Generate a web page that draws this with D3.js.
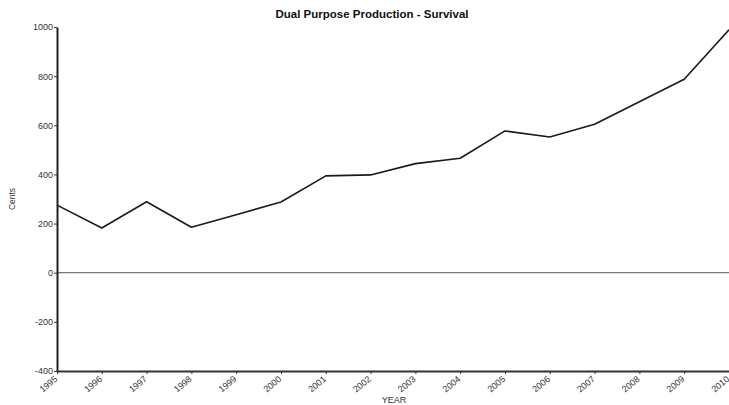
<!DOCTYPE html>
<html>
<head>
<meta charset="utf-8">
<script src="https://cdn.jsdelivr.net/npm/d3@7"></script>
<style>
  body { margin: 0; background: #fff; }
  svg { display: block; font-family: "Liberation Sans", Arial, Helvetica, sans-serif; }
</style>
</head>
<body>
<svg id="chart" width="729" height="405"></svg>
<script>
const years = [1995, 1996, 1997, 1998, 1999, 2000, 2001, 2002, 2003, 2004, 2005, 2006, 2007, 2008, 2009, 2010];
const cents = [275, 182, 289, 185, 236, 288, 394, 398, 444, 466, 577, 552, 604, 696, 787, 989];
const yTicks = [-400, -200, 0, 200, 400, 600, 800, 1000];
const title = "Dual Purpose Production - Survival";
const xTitle = "YEAR";
const yTitle = "Cents";

const svg = d3.select("#chart");
const margin = { left: 57, right: 0, top: 27, bottom: 34 };
const W = 729, H = 405;

const x = d3.scaleLinear().domain([1995, 2010]).range([margin.left, W - margin.right]);
const y = d3.scaleLinear().domain([-400, 1000]).range([H - margin.bottom, margin.top]);

// zero line
svg.append("line")
  .attr("x1", x(1995)).attr("x2", x(2010))
  .attr("y1", y(0)).attr("y2", y(0))
  .attr("stroke", "#555").attr("stroke-width", 1);

// data line
const line = d3.line().x((d, i) => x(years[i])).y(d => y(d));
svg.append("path")
  .datum(cents)
  .attr("d", line)
  .attr("fill", "none")
  .attr("stroke", "#1a1a1a")
  .attr("stroke-width", 1.6)
  .attr("stroke-linejoin", "round");

// y axis
const yAxis = svg.append("g")
  .attr("transform", `translate(${margin.left},0)`)
  .call(d3.axisLeft(y).tickValues(yTicks).tickFormat(d => String(d)).tickSize(3).tickPadding(1).tickSizeOuter(0));
yAxis.select(".domain").attr("stroke", "#222").attr("stroke-width", 2);
yAxis.selectAll(".tick line").attr("stroke", "#333");
yAxis.selectAll(".tick text").attr("font-size", 9).attr("fill", "#333");

// x axis
const xAxis = svg.append("g")
  .attr("transform", `translate(0,${y(-400)})`)
  .call(d3.axisBottom(x).tickValues(years).tickFormat(d => String(d)).tickSize(3).tickSizeOuter(0));
xAxis.select(".domain").attr("stroke", "#333").attr("stroke-width", 2);
xAxis.selectAll(".tick line").attr("stroke", "#333");
xAxis.selectAll(".tick text")
  .attr("font-size", 9).attr("fill", "#333")
  .attr("text-anchor", "end")
  .attr("y", 0)
  .attr("dx", -5.4).attr("dy", 7.2)
  .attr("transform", "rotate(-40)");

// titles
svg.append("text")
  .attr("x", 372).attr("y", 18)
  .attr("text-anchor", "middle")
  .attr("font-size", 11.5).attr("font-weight", "bold").attr("fill", "#111")
  .text(title);

svg.append("text")
  .attr("x", 394).attr("y", 403)
  .attr("text-anchor", "middle")
  .attr("font-size", 9).attr("fill", "#333")
  .text(xTitle);

svg.append("text")
  .attr("transform", `translate(15,${(y(-400) + y(1000)) / 2}) rotate(-90)`)
  .attr("text-anchor", "middle")
  .attr("font-size", 8.5).attr("fill", "#333")
  .text(yTitle);
</script>
</body>
</html>
